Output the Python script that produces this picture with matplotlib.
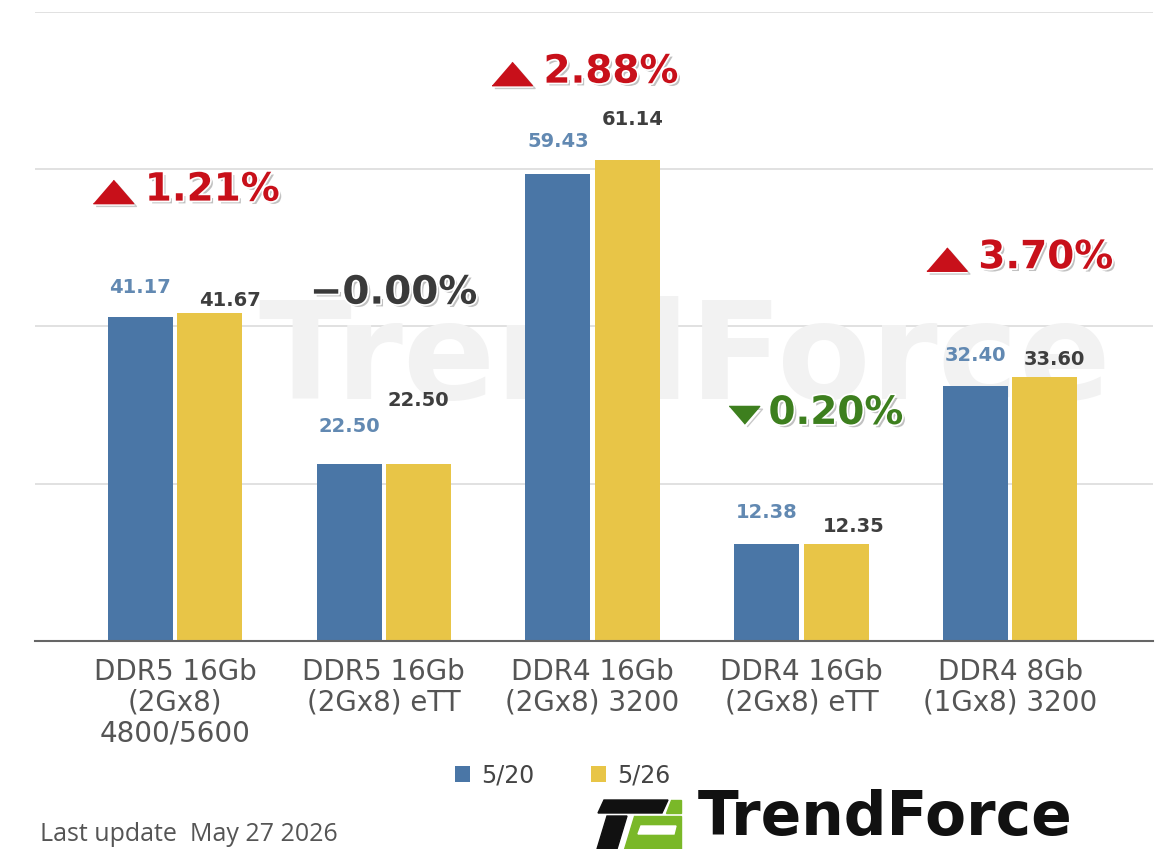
import matplotlib
matplotlib.use('Agg')
import matplotlib.pyplot as plt
import matplotlib.patheffects as pe
from matplotlib.patches import Polygon
import numpy as np

categories = ['DDR5 16Gb\n(2Gx8)\n4800/5600', 'DDR5 16Gb\n(2Gx8) eTT',
              'DDR4 16Gb\n(2Gx8) 3200', 'DDR4 16Gb\n(2Gx8) eTT',
              'DDR4 8Gb\n(1Gx8) 3200']
series_names = ['5/20', '5/26']
prices_0520 = [41.17, 22.50, 59.43, 12.38, 32.40]
prices_0526 = [41.67, 22.50, 61.14, 12.35, 33.60]
change_text = ['1.21%', '\u22120.00%', '2.88%', '0.20%', '3.70%']
change_dir = ['up', 'flat', 'up', 'down', 'up']
update_text = 'Last update  May 27 2026'

BLUE = '#4a76a6'
YELLOW = '#e8c547'
dir_colors = {'up': '#c8101a', 'flat': '#3a3a3a', 'down': '#3d7f1e'}

# label placement (points / data units)
blue_pad = [21.6, 27.4, 23, 22.3, 22.3]
yellow_pad = [9.4, 46, 29, 12.2, 12.2]
yellow_dx = [15, 0, 4, 13, 7]
change_x = [-0.144, -0.354, -0.235, -0.158, -0.153]
change_y = [57.4, 44.3, 72.4, 29.0, 48.8]

fig = plt.figure(figsize=(11.65, 8.49), dpi=100)
ax = fig.add_axes([0.030, 0.245, 0.960, 0.741])
ax.set_facecolor('none')

x = np.arange(len(categories))
w = 0.311
off = 0.166

# faint watermark behind the bars
ax.text(0.588, 0.574, 'TrendForce', transform=fig.transFigure, fontsize=98,
        fontweight='bold', color='#f2f2f2', ha='center', va='center', zorder=1)

ax.bar(x - off, prices_0520, w, color=BLUE, label=series_names[0], zorder=3)
ax.bar(x + off, prices_0526, w, color=YELLOW, label=series_names[1], zorder=3)

shadow = [pe.SimplePatchShadow(offset=(2, -2), shadow_rgbFace='#777777', alpha=0.45),
          pe.Stroke(linewidth=2.5, foreground='white'), pe.Normal()]
tri_up = [(-1, -0.58), (1, -0.58), (0, 0.58)]
tri_down = [(-1, 0.58), (1, 0.58), (0, -0.58)]

for i in range(len(x)):
    ax.annotate(f'{prices_0520[i]:.2f}', (x[i] - off, prices_0520[i]), xytext=(0, blue_pad[i]),
                textcoords='offset points', ha='center', va='center', fontsize=14,
                fontweight='bold', color='#6289b2')
    ax.annotate(f'{prices_0526[i]:.2f}', (x[i] + off, prices_0526[i]),
                xytext=(yellow_dx[i], yellow_pad[i]), textcoords='offset points', ha='center',
                va='center', fontsize=14, fontweight='bold', color='#3e3e3e')
    col = dir_colors[change_dir[i]]
    ax.text(x[i] + change_x[i], change_y[i], change_text[i], ha='left', va='center',
            fontsize=28, fontweight='heavy', color=col, zorder=5, path_effects=shadow)
    if change_dir[i] != 'flat':
        big = change_dir[i] == 'up'
        ax.plot(x[i] + change_x[i] - (0.15 if big else 0.115), change_y[i] - 0.3,
                marker=tri_up if big else tri_down, markersize=29 if big else 22,
                color=col, linestyle='none', zorder=5, clip_on=False,
                path_effects=[pe.SimpleLineShadow(offset=(2, -2), shadow_color='#777777', alpha=0.4),
                              pe.Normal()])

ax.set_xlim(-0.67, 4.685)
ax.set_ylim(0, 80)
ax.set_yticks([0, 20, 40, 60, 80])
ax.yaxis.grid(True, color='#dcdcdc', linewidth=1.2)
ax.set_axisbelow(True)
ax.tick_params(axis='y', left=False, labelleft=False)
ax.tick_params(axis='x', bottom=False, pad=9)
ax.set_xticks(x)
ax.set_xticklabels(categories, fontsize=20, color='#555555', linespacing=1.12)
for s in ['left', 'right', 'top']:
    ax.spines[s].set_visible(False)
ax.spines['bottom'].set_color('#666666')
ax.spines['bottom'].set_linewidth(1.5)
ax.spines['bottom'].set_zorder(4)

fig.legend(loc='center', bbox_to_anchor=(0.483, 0.087), ncol=2, frameon=False,
           fontsize=17, handlelength=0.65, handleheight=0.65, handletextpad=0.45,
           columnspacing=2.4, labelcolor='#444444')

fig.text(0.034, 0.0165, update_text, fontsize=18, color='#555555', ha='left', va='center',
         family=['Open Sans', 'DejaVu Sans'])

# TrendForce logo
fig.text(0.599, 0.001, 'TrendForce', fontsize=43, fontweight='bold', color='#111111',
         ha='left', va='bottom')


def px_poly(pts, color):
    pts = [(px / 1165, 1 - py / 849) for px, py in pts]
    fig.patches.append(Polygon(pts, closed=True, transform=fig.transFigure, color=color))


px_poly([(604, 800), (668, 800), (662, 813), (598, 813)], '#111111')
px_poly([(607, 816), (627, 816), (617, 849), (597, 849)], '#111111')
px_poly([(671, 800), (681, 800), (681, 813), (666, 813)], '#7ab828')
px_poly([(634, 816), (681, 816), (681, 849), (624, 849)], '#7ab828')
px_poly([(641, 826), (676, 826), (674, 834), (638, 834)], 'white')

fig.savefig('out.png', dpi=100, facecolor='white')
